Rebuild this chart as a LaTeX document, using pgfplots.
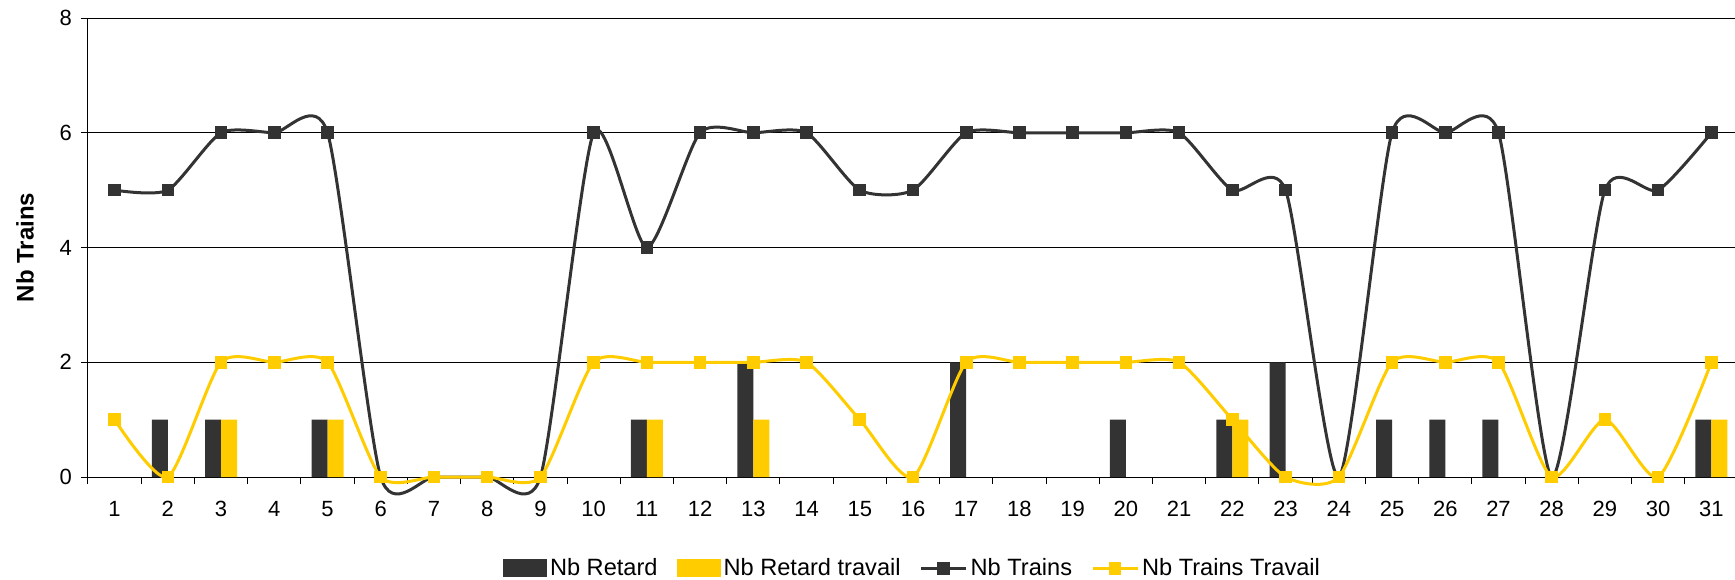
\documentclass[border=0pt]{standalone}
\usepackage{pgfplots}
\pgfplotsset{compat=1.18}
\usepackage{fontspec}
\setmainfont{Liberation Sans}
\definecolor{dark}{HTML}{333333}
\definecolor{gold}{HTML}{FFCC00}

\pgfplotsset{
  boxleg/.style={legend image code/.code={\fill[##1,draw=none] (0pt,-4.5pt) rectangle (22pt,4.5pt);}},
  lineleg/.style={legend image code/.code={\draw[mark repeat=2, mark phase=2, ##1] plot coordinates {(0pt,0pt) (11.25pt,0pt) (22.5pt,0pt)};}},
}

\begin{document}
\begin{tikzpicture}
\begin{axis}[
  at={(0,0)}, anchor=south west,
  scale only axis, width=825pt, height=229.5pt,
  xmin=0.5, xmax=31.5, ymin=0, ymax=8,
  clip=false,
  axis x line=bottom, axis y line=left, axis line style={-, black, line width=0.5pt},
  xtick={1,...,31},
  minor xtick={0.5,1.5,...,31.5},
  major x tick style={draw=none},
  minor x tick style={black, line width=0.5pt},
  ytick={0,2,4,6,8},
  y tick style={black, line width=0.5pt},
  tick align=outside, major tick length=3.5pt, minor tick length=3.5pt,
  ymajorgrids, grid style={black, line width=0.5pt},
  /pgf/number format/assume math mode=true,
  tick label style={font=\fontsize{11}{13}\selectfont},
  xticklabel style={yshift=-5pt},
  yticklabel style={xshift=-1pt},
  ylabel={Nb Trains},
  every axis y label/.style={at={(rel axis cs:0,0.5)}, xshift=-31.5pt, rotate=90, anchor=center,
    font=\bfseries\fontsize{12}{14}\selectfont},
  legend columns=4,
  legend style={at={(0.5,-0.199)}, anchor=center, draw=none, fill=none,
    font=\fontsize{11.8}{13}\selectfont,
    /tikz/every even column/.append style={column sep=8pt},
    nodes={inner sep=1.5pt}},
]
\addplot[ybar, bar width=8pt, bar shift=-4pt, fill=dark, draw=none, boxleg]
  coordinates {(2,1)(3,1)(5,1)(11,1)(13,2)(17,2)(20,1)(22,1)(23,2)(25,1)(26,1)(27,1)(31,1)};
\addlegendentry{Nb Retard}
\addplot[ybar, bar width=8pt, bar shift=4pt, fill=gold, draw=none, boxleg]
  coordinates {(3,1)(5,1)(11,1)(13,1)(22,1)(31,1)};
\addlegendentry{Nb Retard travail}
\addplot[dark, line width=1.5pt, smooth, tension=0.4, mark=square*, mark size=2.9pt,
  mark options={solid, fill=dark, draw=dark, line width=0pt}, lineleg]
  coordinates {(1,5)(2,5)(3,6)(4,6)(5,6)(6,0)(7,0)(8,0)(9,0)(10,6)(11,4)(12,6)(13,6)(14,6)(15,5)(16,5)
  (17,6)(18,6)(19,6)(20,6)(21,6)(22,5)(23,5)(24,0)(25,6)(26,6)(27,6)(28,0)(29,5)(30,5)(31,6)};
\addlegendentry{Nb Trains}
\addplot[gold, line width=1.5pt, smooth, tension=0.4, mark=square*, mark size=2.9pt,
  mark options={solid, fill=gold, draw=gold, line width=0pt}, lineleg]
  coordinates {(1,1)(2,0)(3,2)(4,2)(5,2)(6,0)(7,0)(8,0)(9,0)(10,2)(11,2)(12,2)(13,2)(14,2)(15,1)(16,0)
  (17,2)(18,2)(19,2)(20,2)(21,2)(22,1)(23,0)(24,0)(25,2)(26,2)(27,2)(28,0)(29,1)(30,0)(31,2)};
\addlegendentry{Nb Trains Travail}
\end{axis}
\pgfresetboundingbox
\useasboundingbox (-44pt,-51pt) rectangle (823.5pt,238.5pt);
\end{tikzpicture}
\end{document}
